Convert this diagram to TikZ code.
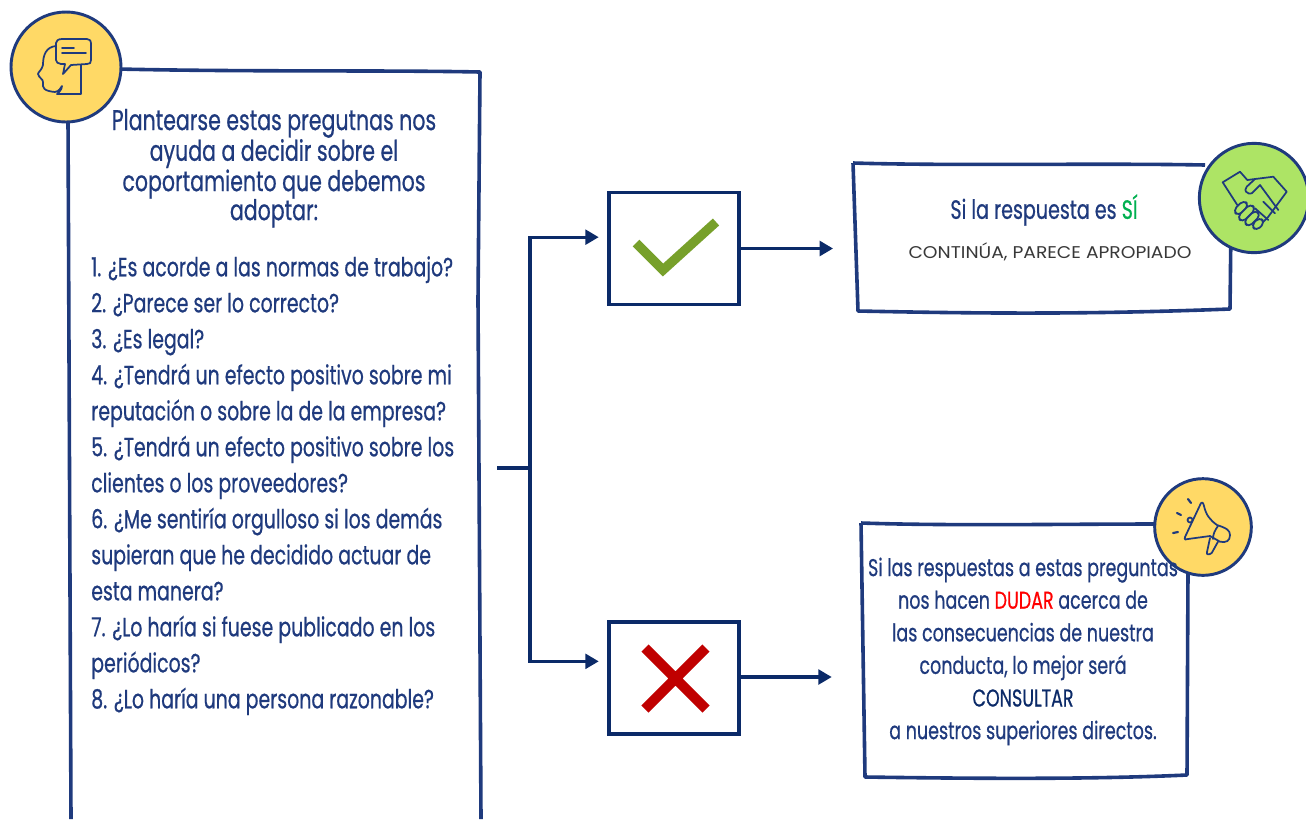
\documentclass[tikz,border=0pt]{standalone}
\usepackage{fontspec}
\setmainfont{Poppins}
\newfontfamily\hand[FakeStretch=0.72,FakeBold=0.6]{Poppins}
\newfontfamily\caps[FakeStretch=1.1]{Poppins}
\usetikzlibrary{arrows.meta}
\definecolor{navy}{HTML}{1F3A7D}
\definecolor{conn}{HTML}{0B2A68}
\definecolor{yel}{HTML}{FFD966}
\definecolor{grn}{HTML}{ADE465}
\definecolor{tick}{HTML}{77A02A}
\definecolor{redx}{HTML}{C00000}
\definecolor{si}{HTML}{00B050}
\definecolor{dudar}{HTML}{FF0000}
\newcommand{\pxl}[2]{\fontsize{\the\dimexpr #1pt*3/4\relax}{\the\dimexpr #2pt*3/4\relax}\selectfont}
\tikzset{
  x=0.75pt,y=-0.75pt,
  sketch/.style={draw=navy,line width=2.7pt,line join=round},
  badge/.style={draw=navy,line width=2.2pt},
  icon/.style={draw=navy,line width=1.3pt,line join=round,line cap=round},
  arrowline/.style={draw=conn,line width=2.4pt,-{Triangle[length=10pt,width=11pt]}},
  choice/.style={draw=conn,line width=2.4pt,fill=white,minimum width=97.5pt,minimum height=84pt,inner sep=0pt},
  body/.style={text=navy,inner sep=0pt},
}
\begin{document}
\begin{tikzpicture}
\useasboundingbox (0,0) rectangle (1306,819);
% left panel
\draw[sketch] (68,118) -- (71,819) (118,69) .. controls (250,72) and (380,70) .. (480,72) -- (478,300) -- (481,819);
\node[badge,circle,fill=yel,minimum size=82.5pt,inner sep=0pt] (head) at (66,67) {};
% head icon
\draw[icon] (56,46) .. controls (46,47) and (43,55) .. (43,65) .. controls (42,70) and (38,72) .. (38,74)
  .. controls (39,78) and (43,79) .. (43,82) .. controls (42,88) and (44,91) .. (55,92) .. controls (60,91) and (60,88) .. (62,86) .. controls (62,90) and (58,93) .. (57,94) -- (81,94) -- (81,65);
\draw[icon,fill=yel] (62,39) -- (87,39) .. controls (90,39) and (91,41) .. (91,43) -- (91,60) .. controls (91,63) and (90,64) .. (87,64) -- (71,65) -- (63,74) -- (65,64) -- (61,64) .. controls (58,64) and (56,62) .. (56,60) -- (56,43) .. controls (56,41) and (58,39) .. (62,39) -- cycle;
\draw[icon] (62,48) -- (74,48) (62,53) -- (86,53);
\node[body,anchor=north,align=center,font=\hand\pxl{28.5}{29}] (title) at (274,108.7) {Plantearse estas pregutnas nos\\ayuda a decidir sobre el\\coportamiento que debemos\\adoptar:};
\node[body,anchor=north west,align=left,font=\hand\pxl{26.3}{36}] (list) at (91,256) {1. ¿Es acorde a las normas de trabajo?\\
2. ¿Parece ser lo correcto?\\
3. ¿Es legal?\\
4. ¿Tendrá un efecto positivo sobre mi\\
reputación o sobre la de la empresa?\\
5. ¿Tendrá un efecto positivo sobre los\\
clientes o los proveedores?\\
6. ¿Me sentiría orgulloso si los demás\\
supieran que he decidido actuar de\\
esta manera?\\
7. ¿Lo haría si fuese publicado en los\\
periódicos?\\
8. ¿Lo haría una persona razonable?};
% choice boxes
\node[choice] (okbox) at (674,248.5) {};
\node[choice] (nobox) at (674,678) {};
\draw[draw=tick,line width=7pt] (636,243) -- (663,270) -- (716,222);
\draw[draw=redx,line width=7.5pt] (645,648) -- (706,709) (706,648) -- (645,709);
% result boxes
\coordinate (panelout) at (497,468);
\coordinate (branch) at (530,468);
\node[minimum width=281pt,minimum height=111pt,inner sep=0pt] (yesbox) at (1042,238) {};
\node[minimum width=245pt,minimum height=190pt,inner sep=0pt] (asknox) at (1024,651) {};
\draw[sketch] (853,163) .. controls (950,166) and (1100,163) .. (1205,165) (1231,225) -- (1230,309) .. controls (1100,314) and (1000,314) .. (858,311) -- (853,163);
\draw[sketch] (861,523) .. controls (950,526) and (1060,524) .. (1160,524) (1188,570) -- (1187,775) .. controls (1100,779) and (1000,779) .. (865,777) -- (861,523);
% connectors
\draw[draw=conn,line width=2.4pt] (panelout) -- (branch);
\draw[arrowline,shorten >=6.5pt] (branch) |- ([yshift=8.5pt]okbox.west);
\draw[arrowline,shorten >=6.5pt] (branch) |- ([yshift=12.5pt]nobox.west);
\draw[arrowline,shorten >=16pt] (okbox.east) -- (okbox.east -| yesbox.west);
\draw[arrowline,shorten >=21.5pt] ([yshift=0.75pt]nobox.east) -- ([yshift=0.75pt]nobox.east -| asknox.west);
% handshake badge
\node[badge,circle,fill=grn,minimum size=82pt,inner sep=0pt] (shake) at (1254,198) {};
\draw[icon] (1237.3,205) -- (1222.7,182.3) -- (1240,171.7) -- (1247.3,180) -- (1255,179) -- (1273.3,176.7) -- (1286.7,191.7) -- (1268.3,216.7) -- (1263.3,221.7);
\draw[icon] (1255,179) -- (1246.7,186.7) .. controls (1245,189) and (1245,191) .. (1246,191.7) .. controls (1248,194) and (1250,194) .. (1251.7,193.3) -- (1260,185) -- (1278.3,210);
\draw[icon] (1263.3,201.7) -- (1275,213.3) (1255,208.3) -- (1268.3,220);
\foreach \cx/\cy/\len in {1241/208/7.5, 1246.5/213/9.5, 1252/218.5/8.5, 1258/224/6}{
  \draw[icon,fill=grn,rounded corners=3.5,shift={(\cx,\cy)},rotate=45] (-\len,-3.8) rectangle (\len,3.8);
}
\node[body,anchor=center,font=\hand\pxl{26.5}{30}] (yes1) at (1044,210) {Si la respuesta es {\color{si}SÍ}};
\node[anchor=center,inner sep=0pt,text=black!78,font=\caps\pxl{17}{20}] (yes2) at (1050,252) {CONTINÚA, PARECE APROPIADO};
% megaphone badge
\node[badge,circle,fill=yel,minimum size=72.5pt,inner sep=0pt] (mega) at (1203,527) {};
\draw[icon] (1201,503) -- (1185,537) .. controls (1184,540) and (1186,540) .. (1188,539) -- (1210,536) -- (1220,541.7) .. controls (1226,543) and (1230,541) .. (1230,535) .. controls (1230,530) and (1226,528) .. (1217,525) .. controls (1210,520) and (1206,515) .. (1204,506) .. controls (1203,502) and (1202,502) .. (1201,503);
\draw[icon] (1218,526) .. controls (1215,530) and (1213,534) .. (1213,539) (1218,541.7) -- (1211.7,553) .. controls (1209,555) and (1206,555) .. (1207,552) -- (1210,538);
\draw[icon] (1190,520) circle (2.5);
\draw[icon,line width=1.6pt] (1188,499) -- (1191,503) (1177,513) -- (1181,515) (1173,533) -- (1178,532);
\node[body,align=center,anchor=center,font=\hand\pxl{24.3}{32.6}] (notext) at (1023,651.5) {Si las respuestas a estas preguntas\\
nos hacen {\color{dudar}DUDAR} acerca de\\
las consecuencias de nuestra\\
conducta, lo mejor será\\
{\color{conn}CONSULTAR}\\
a nuestros superiores directos.};
\end{tikzpicture}
\end{document}
